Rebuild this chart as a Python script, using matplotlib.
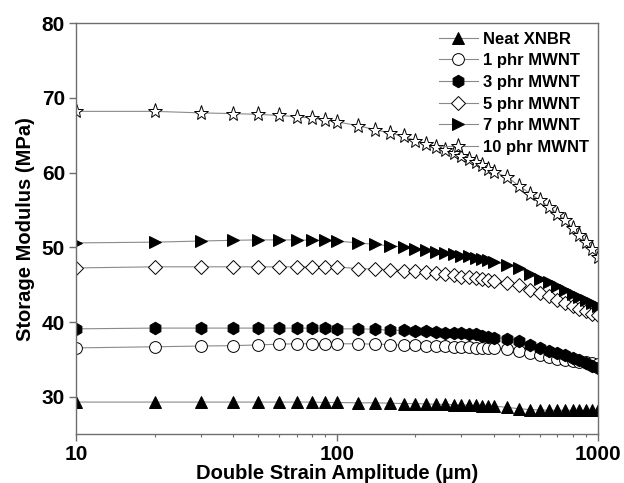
import matplotlib
matplotlib.use('Agg')
import matplotlib.pyplot as plt

plt.rcParams['font.family'] = ['Liberation Sans', 'DejaVu Sans']
plt.rcParams['font.weight'] = 'bold'

# strain amplitude (um)
strain = [10, 20, 30, 40, 50, 60, 70, 80, 90, 100,
          120, 140, 160, 180, 200, 220, 240, 260, 280, 300, 320, 340, 360, 380, 400,
          450, 500,
          550, 600, 650, 700, 750, 800, 850, 900, 950, 1000]

neat = [29.3, 29.3, 29.3, 29.3, 29.3, 29.3, 29.3, 29.3, 29.25, 29.25,
        29.2, 29.2, 29.15, 29.1, 29.1, 29.05, 29.0, 29.0, 28.95, 28.9, 28.9, 28.85, 28.8, 28.8, 28.75,
        28.6, 28.4,
        28.3, 28.25, 28.2, 28.2, 28.2, 28.2, 28.2, 28.2, 28.2, 28.2]

phr1 = [36.55, 36.7, 36.8, 36.85, 36.95, 37.05, 37.1, 37.1, 37.1, 37.1,
        37.1, 37.05, 37.0, 36.9, 36.9, 36.8, 36.8, 36.75, 36.7, 36.7, 36.65, 36.6, 36.6, 36.55, 36.5,
        36.4, 36.2,
        35.9, 35.6, 35.3, 35.1, 34.9, 34.8, 34.7, 34.6, 34.5, 34.4]

phr3 = [39.1, 39.2, 39.2, 39.2, 39.2, 39.2, 39.2, 39.2, 39.2, 39.1,
        39.1, 39.05, 38.9, 38.9, 38.8, 38.8, 38.7, 38.6, 38.5, 38.5, 38.4, 38.35, 38.2, 38.0, 37.9,
        37.8, 37.5,
        37.0, 36.6, 36.2, 35.9, 35.6, 35.2, 34.9, 34.5, 34.1, 33.8]

phr5 = [47.25, 47.4, 47.4, 47.4, 47.4, 47.4, 47.4, 47.4, 47.4, 47.4,
        47.15, 47.1, 47.0, 46.9, 46.8, 46.7, 46.6, 46.4, 46.3, 46.1, 46.0, 45.9, 45.8, 45.6, 45.5,
        45.2, 44.9,
        44.35, 43.9, 43.5, 43.0, 42.6, 42.1, 41.8, 41.5, 41.1, 40.9]

phr7 = [50.6, 50.7, 50.85, 50.95, 51.0, 51.0, 51.0, 50.95, 50.95, 50.85,
        50.6, 50.4, 50.2, 50.05, 49.8, 49.6, 49.4, 49.25, 49.1, 48.9, 48.8, 48.6, 48.5, 48.3, 48.05,
        47.6, 47.2,
        46.4, 45.8, 45.4, 44.8, 44.3, 43.8, 43.4, 42.9, 42.5, 42.1]

phr10 = [68.2, 68.2, 68.0, 67.9, 67.8, 67.65, 67.5, 67.3, 67.1, 66.8,
         66.3, 65.75, 65.3, 64.85, 64.3, 63.9, 63.4, 63.0, 62.6, 62.2, 61.8, 61.4, 61.0, 60.5, 60.1,
         59.4, 58.2,
         57.2, 56.3, 55.4, 54.5, 53.6, 52.6, 51.6, 50.7, 49.8, 48.7]

labels = ['Neat XNBR', '1 phr MWNT', '3 phr MWNT', '5 phr MWNT', '7 phr MWNT', '10 phr MWNT']
series = [neat, phr1, phr3, phr5, phr7, phr10]
markers = ['^', 'o', 'h', 'D', '>', '*']
filled = [True, False, True, False, True, False]
sizes = [9, 8.5, 9, 7, 9, 11]

fig = plt.figure(figsize=(6.24, 4.83), dpi=100)
ax = fig.add_axes([0.122, 0.101, 0.836, 0.851])

for ys, lab, m, f, s in zip(series, labels, markers, filled, sizes):
    ax.plot(strain, ys, color='#8a8a8a', lw=0.8, marker=m, ms=s,
            markerfacecolor='black' if f else 'white',
            markeredgecolor='black', markeredgewidth=0.7, label=lab)

ax.set_xscale('log')
ax.set_xlim(10, 1000)
ax.set_ylim(25, 80)
ax.set_yticks([30, 40, 50, 60, 70, 80])
ax.set_xticks([10, 100, 1000])
ax.set_xticklabels(['10', '100', '1000'])

for sp in ax.spines.values():
    sp.set_color('#6e6e6e')
    sp.set_linewidth(1.0)
ax.tick_params(which='major', direction='out', length=5, width=1, color='#6e6e6e',
               labelsize=15, pad=3)
ax.tick_params(which='minor', direction='out', length=2.5, width=0.8, color='#6e6e6e')
ax.tick_params(axis='y', which='minor', left=False)

ax.set_xlabel('Double Strain Amplitude (µm)', fontsize=14.5, fontweight='bold', labelpad=0)
ax.set_ylabel('Storage Modulus (MPa)', fontsize=14.5, fontweight='bold', labelpad=5)

ax.legend(loc='upper right', frameon=False, fontsize=12, labelspacing=0.4,
          handlelength=2.3, handletextpad=0.35, borderaxespad=0.1,
          bbox_to_anchor=(1.0, 1.0))

fig.savefig('out.png', dpi=100)
